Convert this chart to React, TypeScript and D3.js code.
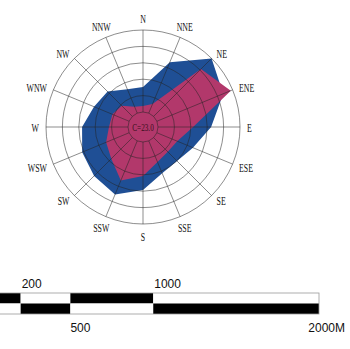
import React from 'react';
import * as d3 from 'd3';

const directions = ["N", "NNE", "NE", "ENE", "E", "ESE", "SE", "SSE", "S", "SSW", "SW", "WSW", "W", "WNW", "NW", "NNW"];

// frequency per direction (outer / blue series)
const outerSeries = [7.6, 16.8, 25, 21.9, 16.2, 11.9, 10.1, 10.7, 14.6, 17.7, 16.5, 15.5, 14.0, 11.6, 10.7, 7.9];
// inner / magenta series
const innerSeries = [1.8, 3.0, 20.4, 24.4, 10.7, 6.7, 6.1, 7.0, 10.4, 13.1, 9.1, 7.6, 5.8, 5.5, 4.6, 2.1];

const ringValues = [5, 10, 15, 20, 25];
const calmLabel = "C=23.0";

// scale bar
const barBreaks = [0, 200, 500, 1000, 2000];
const barTopLabels = ["200", "1000"];
const barTopAt = [200, 1000];
const barBottomLabels = ["500", "2000M"];
const barBottomAt = [500, 2000];

const cx = 143;
const cy = 127;
const calmR = 15;
const outerR = 97;

const App = () => {
  const r = d3.scaleLinear().domain([0, 25]).range([calmR, outerR]);
  const angle = d3.scaleLinear().domain([0, directions.length]).range([0, 2 * Math.PI]);

  const radial = d3.lineRadial<number>()
    .angle((d, i) => angle(i))
    .radius(d => r(d))
    .curve(d3.curveLinearClosed);

  const xb = d3.scaleLinear().domain([0, 2000]).range([-12.5, 319]);
  const barTop = 293;
  const barH = 10.5;

  return (
    <svg width={350} height={349} style={{ position: 'absolute', left: 0, top: 0, background: '#fff' }}>
      <g transform={`translate(${cx}, ${cy})`}>
        <path d={radial(outerSeries) || ''} fill="#1f4f95" />
        <path d={radial(innerSeries) || ''} fill="#b2386b" />
        <g fill="none" stroke="#222" strokeOpacity={0.65} strokeWidth={0.8}>
          <circle r={calmR} />
          {ringValues.map(v => <circle key={v} r={r(v)} />)}
          {directions.map((d, i) => {
            const a = angle(i);
            return (
              <line key={d}
                x1={Math.sin(a) * calmR} y1={-Math.cos(a) * calmR}
                x2={Math.sin(a) * outerR} y2={-Math.cos(a) * outerR} />
            );
          })}
        </g>
        <text x={0} y={0} dy="0.35em" textAnchor="middle" fontFamily="Liberation Serif" fontSize={10}
          fill="#3a1020" transform="scale(0.72,1)">{calmLabel}</text>
        {directions.map((d, i) => {
          const a = angle(i);
          const s = Math.sin(a);
          const c = Math.cos(a);
          const rr = Math.abs(s) < 0.5 ? 109 : 104;
          const anchor = s > 0.5 ? 'start' : s < -0.5 ? 'end' : 'middle';
          return (
            <text key={d}
              transform={`translate(${s * rr}, ${-c * rr}) scale(0.58,1)`}
              textAnchor={anchor} dy="0.35em"
              fontFamily="Liberation Serif" fontSize={13.5} fill="#111">{d}</text>
          );
        })}
      </g>

      <g>
        {barBreaks.slice(0, -1).map((b, i) => (
          <g key={b}>
            <rect x={xb(b)} y={barTop} width={xb(barBreaks[i + 1]) - xb(b)} height={barH}
              fill={i % 2 === 0 ? '#000' : '#fff'} />
            <rect x={xb(b)} y={barTop + barH} width={xb(barBreaks[i + 1]) - xb(b)} height={barH}
              fill={i % 2 === 0 ? '#fff' : '#000'} />
          </g>
        ))}
        <rect x={xb(0)} y={barTop} width={xb(2000) - xb(0)} height={barH * 2}
          fill="none" stroke="#999" strokeWidth={0.8} />
        {barTopLabels.map((t, i) => (
          <text key={t} x={xb(barTopAt[i]) + 1} y={barTop - 5} fontFamily="Liberation Sans" fontSize={12} fill="#111">{t}</text>
        ))}
        {barBottomLabels.map((t, i) => (
          <text key={t} x={xb(barBottomAt[i]) + (i === barBottomLabels.length - 1 ? 26 : 0)}
            y={barTop + barH * 2 + 18} textAnchor={i === barBottomLabels.length - 1 ? 'end' : 'start'}
            fontFamily="Liberation Sans" fontSize={12} fill="#111">{t}</text>
        ))}
      </g>
    </svg>
  );
};

export default App;
